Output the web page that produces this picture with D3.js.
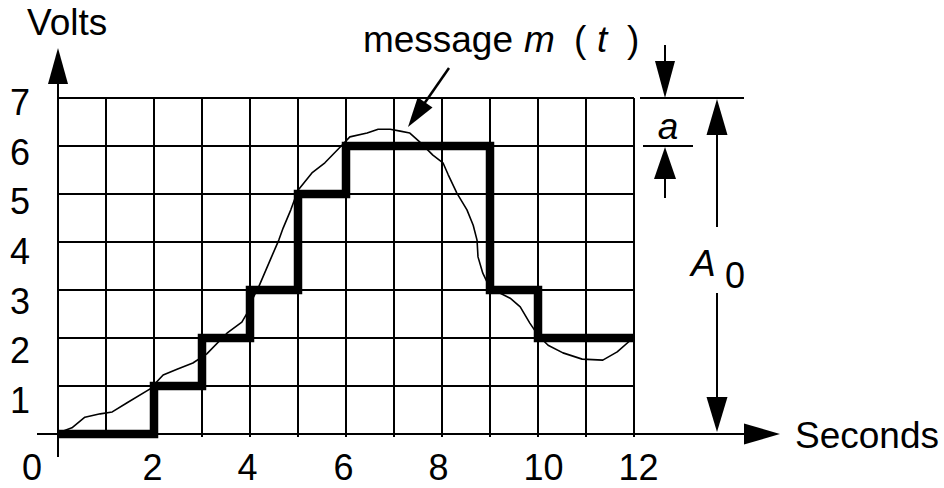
<!DOCTYPE html>
<html>
<head>
<meta charset="utf-8">
<script src="https://cdn.jsdelivr.net/npm/d3@7/dist/d3.min.js"></script>
<style>
  html, body { margin: 0; padding: 0; background: #fff; }
  svg { display: block; }
  text { font-family: "Liberation Sans", Arial, Helvetica, sans-serif; fill: #000; }
</style>
</head>
<body>
<svg id="chart" width="944" height="488"></svg>
<script>
// Quantized staircase: level held from each start time until the next one
const stepTimes  = [0, 2, 3, 4, 5, 6, 9, 10, 12];
const stepLevels = [0, 1, 2, 3, 5, 6, 3, 2, 2];

// Continuous message m(t), sampled along the trace
const msgT = [0, 0.29, 0.56, 0.88, 1.13, 1.44, 1.92, 2.19, 2.48, 2.81, 3.10, 3.52, 3.83, 3.94, 4.04, 4.17,
              4.44, 4.60, 4.69, 4.85, 5.00, 5.29, 5.56, 5.92, 6.08, 6.44, 6.67, 6.92, 7.13, 7.33, 7.54,
              7.81, 8.02, 8.13, 8.31, 8.52, 8.65, 8.73, 8.75, 8.85, 9.00, 9.42, 9.63, 9.83, 10.00,
              10.21, 10.52, 10.92, 11.35, 11.65, 11.98];
const msgV = [0.02, 0.13, 0.35, 0.42, 0.46, 0.65, 0.94, 1.23, 1.35, 1.48, 1.67, 2.10, 2.33, 2.52, 2.79, 3.04,
              3.67, 4.04, 4.29, 4.67, 5.08, 5.44, 5.65, 6.02, 6.19, 6.27, 6.35, 6.35, 6.31, 6.27, 6.08,
              5.81, 5.65, 5.40, 5.02, 4.67, 4.35, 4.04, 3.69, 3.35, 3.04, 2.83, 2.65, 2.31, 2.06,
              1.85, 1.69, 1.56, 1.54, 1.71, 2.00];

// Tick labels
const xTicks = [2, 4, 6, 8, 10, 12];
const yTicks = [1, 2, 3, 4, 5, 6, 7];
const gridX = d3.range(0, 13);
const gridY = d3.range(1, 8);

const svg = d3.select("#chart");
const FS = 37;   // titles and annotations
const DS = 36;   // tick digits

const x = d3.scaleLinear().domain([0, 12]).range([58, 634]);
const y = d3.scaleLinear().domain([0, 7]).range([434, 98]);
// vertical label placement runs on its own slightly wider spacing
const yLab = d3.scaleLinear().domain([1, 7]).range([413, 115]);

// arrowhead polygon pointing from (x0,y0) toward tip (x1,y1)
function arrowHead(x0, y0, x1, y1, len, half) {
  const dx = x1 - x0, dy = y1 - y0, L = Math.hypot(dx, dy);
  const ux = dx / L, uy = dy / L;
  const bx = x1 - ux * len, by = y1 - uy * len;
  return [[x1, y1], [bx - uy * half, by + ux * half], [bx + uy * half, by - ux * half]];
}
function arrow(g, x0, y0, x1, y1, len, half, sw) {
  const h = arrowHead(x0, y0, x1, y1, len, half);
  const L = Math.hypot(x1 - x0, y1 - y0);
  const bx = x1 - (x1 - x0) / L * (len - 2), by = y1 - (y1 - y0) / L * (len - 2);
  g.append("line").attr("x1", x0).attr("y1", y0).attr("x2", bx).attr("y2", by)
    .attr("stroke", "#000").attr("stroke-width", sw || 2);
  g.append("polygon").attr("points", h.map(p => p.join(",")).join(" ")).attr("fill", "#000");
}

// grid
const grid = svg.append("g").attr("stroke", "#000").attr("stroke-width", 2);
grid.selectAll("line.v").data(gridX.filter(d => d > 0)).join("line")
  .attr("class", "v")
  .attr("x1", d => x(d)).attr("x2", d => x(d))
  .attr("y1", y(0) + 3).attr("y2", y(7));
grid.selectAll("line.h").data(gridY).join("line")
  .attr("class", "h")
  .attr("x1", x(0)).attr("x2", x(12))
  .attr("y1", d => y(d)).attr("y2", d => y(d));

// axes with arrows
const ax = svg.append("g");
arrow(ax, 37, y(0), 780, y(0), 36, 10.5, 2);
arrow(ax, x(0), 457, x(0), 48, 36, 10, 2);

// x tick labels
const xShift = { 2: -2, 4: -3, 6: -3, 8: -4, 10: 5, 12: 4 };
const xAxis = d3.axisBottom(x).tickValues(xTicks).tickSize(0).tickFormat(d3.format("d"));
const gx = svg.append("g").attr("transform", `translate(0,${y(0)})`).call(xAxis);
gx.select(".domain").remove();
gx.selectAll("text")
  .attr("y", 46).attr("dy", 0)
  .attr("dx", d => xShift[d])
  .attr("font-size", DS).attr("font-family", "Liberation Sans, Arial, sans-serif").attr("fill", "#000");
svg.append("text").attr("x", 32).attr("y", 480).attr("text-anchor", "middle")
  .attr("font-size", DS).text("0");

// y tick labels
const gy = svg.append("g");
gy.selectAll("text").data(yTicks).join("text")
  .attr("x", 20).attr("y", d => yLab(d)).attr("text-anchor", "middle")
  .attr("font-size", DS).text(d => d);

// axis titles
svg.append("text").attr("x", 27).attr("y", 35).attr("font-size", FS).text("Volts");
svg.append("text").attr("x", 795).attr("y", 448).attr("font-size", FS).text("Seconds");

// message curve
const msgData = msgT.map((t, i) => [t, msgV[i]]);
svg.append("path").datum(msgData)
  .attr("d", d3.line().x(d => x(d[0])).y(d => y(d[1])))
  .attr("fill", "none").attr("stroke", "#000").attr("stroke-width", 1.6)
  .attr("stroke-linejoin", "round");

// quantized staircase
const stepData = stepTimes.map((t, i) => [t, stepLevels[i]]);
svg.append("path").datum(stepData)
  .attr("d", d3.line().curve(d3.curveStepAfter).x(d => x(d[0])).y(d => y(d[1])))
  .attr("fill", "none").attr("stroke", "#000").attr("stroke-width", 8.5)
  .attr("stroke-linejoin", "miter");

// message label and pointer
const lab = svg.append("text").attr("y", 52).attr("font-size", FS);
lab.append("tspan").attr("x", 363).attr("textLength", 150).text("message");
lab.append("tspan").attr("x", 524).attr("font-style", "italic").text("m");
lab.append("tspan").attr("x", 574).text("(");
lab.append("tspan").attr("x", 597).attr("font-style", "italic").text("t");
lab.append("tspan").attr("x", 627).text(")");
const ann = svg.append("g");
arrow(ann, 449, 68, 408, 127, 30, 9, 2.5);

// step size "a" marker
ann.append("line").attr("x1", 640).attr("x2", 744).attr("y1", y(7)).attr("y2", y(7))
  .attr("stroke", "#000").attr("stroke-width", 2);
ann.append("line").attr("x1", 643).attr("x2", 693).attr("y1", y(6)).attr("y2", y(6))
  .attr("stroke", "#000").attr("stroke-width", 2);
arrow(ann, 665, 45, 665, y(7), 37, 10, 2);
arrow(ann, 665, 198, 665, y(6) + 1, 32, 11, 2);
svg.append("text").attr("x", 668).attr("y", 139).attr("text-anchor", "middle")
  .attr("font-size", FS).attr("font-style", "italic").text("a");

// full range A0 marker
arrow(ann, 717, 227, 717, y(7) + 1, 36, 10.5, 2);
arrow(ann, 717, 293, 717, y(0) - 2, 35, 10.5, 2);
svg.append("text").attr("x", 691).attr("y", 276).attr("font-size", FS)
  .attr("font-style", "italic").text("A");
svg.append("text").attr("x", 725).attr("y", 288).attr("font-size", DS).text("0");
</script>
</body>
</html>
